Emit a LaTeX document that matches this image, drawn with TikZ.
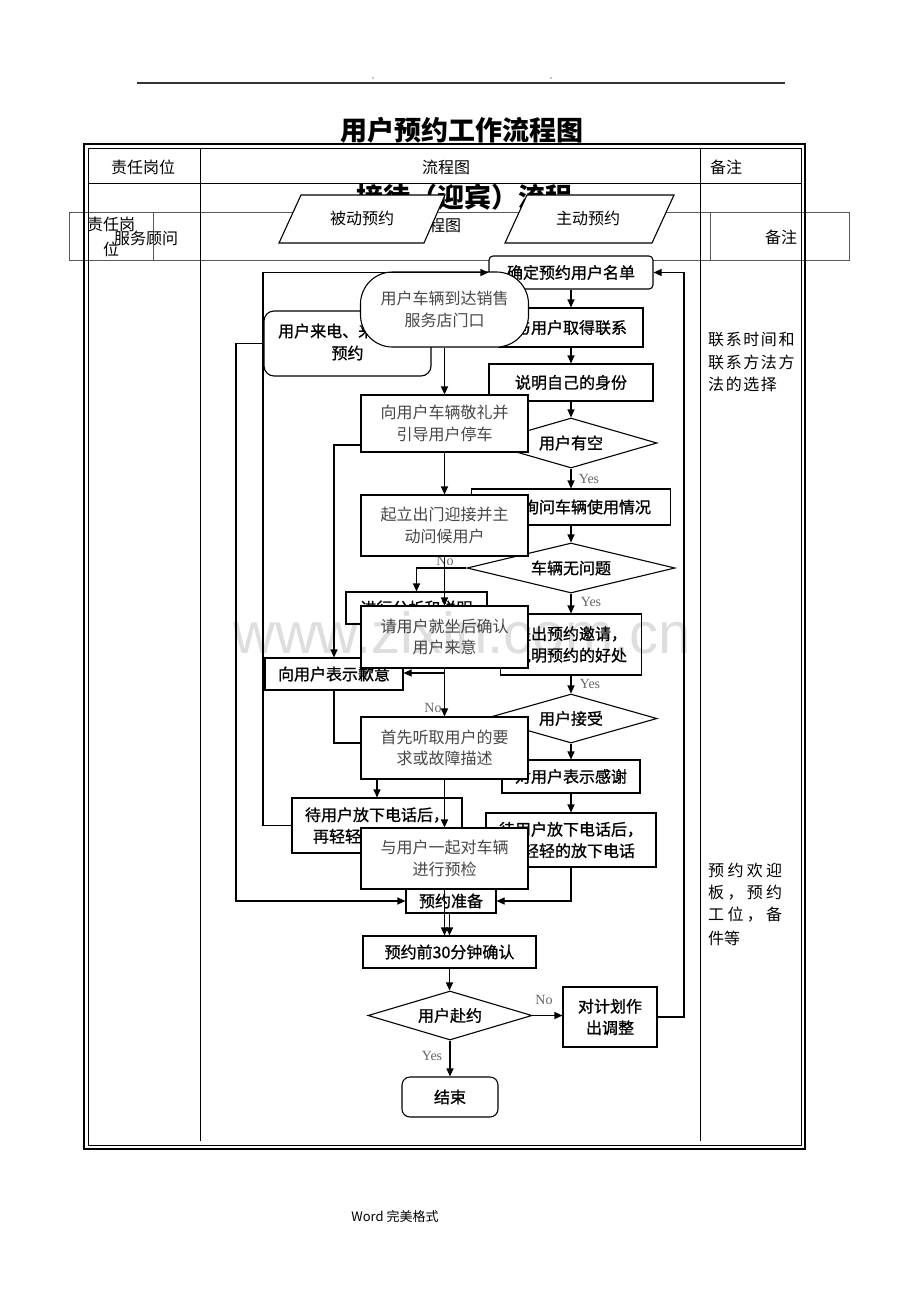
\documentclass[tikz,border=0pt]{standalone}
\usepackage{fontspec}
\setmainfont{Liberation Serif}
\newfontfamily\cjk{Noto Sans CJK SC}
\newfontfamily\cjkb[FakeBold=1]{Noto Sans CJK SC}
\newfontfamily\cjkw[LetterSpace=10]{Noto Sans CJK SC}
\newfontfamily\wmfont{Liberation Sans}
\usetikzlibrary{arrows.meta,shapes.geometric,calc}
\begin{document}
\begin{tikzpicture}[x=1pt,y=-1pt,
  font=\cjk\fontsize{16}{21.5}\selectfont,
  bx/.style={draw,line width=1.1pt,fill=white,inner sep=0pt,align=center,font=\cjkb\fontsize{16}{21.5}\selectfont},
  lb/.style={draw,line width=1.1pt,fill=white,inner sep=0pt,align=center,text=black!72,font=\cjk\fontsize{16}{21.5}\selectfont},
  dm/.style={bx,diamond,aspect=3.5},
  conn/.style={line width=1.1pt,-{Triangle[length=8pt,width=7pt]}},
  ln/.style={line width=1.1pt},
  yn/.style={font=\fontsize{14}{14}\selectfont,text=black!60,inner sep=0pt},
  tx/.style={inner sep=0pt},
]
\useasboundingbox (0,0) rectangle (920,1302);
\fill[white] (0,0) rectangle (920,1302);

% page header
\draw[line width=1.3pt,black!80] (137,83) -- (785,83);
\fill (373,78) circle (0.7pt);
\fill (551,78) circle (0.7pt);
\node[tx] (title) at (462,130) {\cjk\bfseries\fontsize{27}{27}\selectfont 用户预约工作流程图};

% hidden second title
\node[tx] (t2) at (464,197) {\cjk\bfseries\fontsize{27}{27}\selectfont 接待（迎宾）流程};

% second (overlapping) table row
\draw[draw=black!65,fill=white,line width=0.8pt] (69,212) rectangle (849,260);
\draw[draw=black!65,line width=0.8pt] (153,212) -- (153,260) (710,212) -- (710,260);
\node[tx] (s1) at (111,224) {责任岗};
\node[tx] (s2) at (111,249) {位};
\node[tx] (s3) at (437,225) {流程图};
\node[tx] (s4) at (781,237) {备注};

% main table
\draw[line width=1.2pt] (84,144) rectangle (805,1149);
\draw[line width=1.0pt] (88,148) rectangle (801,1145);
\draw[line width=1.0pt] (88,183) -- (801,183);
\draw[line width=1.0pt] (200,148) -- (200,1141);
\draw[line width=1.0pt] (700,148) -- (700,1141);
\node[tx] (h1) at (143,167) {责任岗位};
\node[tx] (h2) at (446,167) {流程图};
\node[tx,anchor=west] (h3) at (710,167) {备注};
\node[tx] (fw) at (146,238) {服务顾问};

% parallelograms
\draw[fill=white,line width=1.1pt] (301,195) -- (445,195) -- (424,243) -- (279,243) -- cycle;
\node[tx] (bd) at (362,218) {被动预约};
\draw[fill=white,line width=1.1pt] (527,195) -- (674,195) -- (652,243) -- (505,243) -- cycle;
\node[tx] (zd) at (588,218) {主动预约};

% coordinates
\coordinate (lA) at (263,272.5);
\coordinate (rA) at (684,272.5);
\coordinate (lB) at (236,343.5);
\coordinate (jlw) at (361,445);
\coordinate (sxw) at (361,743);
\coordinate (br1) at (444.5,673);

% bold-flow nodes
\node[bx,rounded corners=4pt,minimum width=164pt,minimum height=33pt] (qd) at (571,272.5) {确定预约用户名单};
\node[bx,minimum width=144pt,minimum height=39pt] (lx) at (571,327.5) {与用户取得联系};
\node[bx,minimum width=164pt,minimum height=37pt] (sm) at (571,382.5) {说明自己的身份};
\node[dm,minimum width=172pt,minimum height=50pt] (d1) at (571,443) {用户有空};
\node[bx,minimum width=199pt,minimum height=36pt] (xw) at (571,507) {};
\node[tx,font=\cjkb\fontsize{16}{16}\selectfont] (xwt) at (587,507) {询问车辆使用情况};
\node[dm,minimum width=208pt,minimum height=50pt] (d2) at (571,568) {车辆无问题};
\node[bx,minimum width=141pt,minimum height=32pt] (fx) at (416.5,608) {进行分析和说明};
\node[bx,minimum width=141pt,minimum height=61pt] (tc) at (571,644.5) {提出预约邀请，\\说明预约的好处};
\node[bx,minimum width=138pt,minimum height=32pt] (qy) at (334,674) {向用户表示歉意};
\node[dm,minimum width=172pt,minimum height=49pt] (d3) at (571,718.5) {用户接受};
\node[bx,minimum width=138pt,minimum height=33pt] (gx) at (571,776.5) {对用户表示感谢};
\node[bx,minimum width=170pt,minimum height=54pt] (dR) at (571,840) {待用户放下电话后，\\再轻轻的放下电话};
\node[bx,minimum width=170pt,minimum height=55pt] (dL) at (377,825.5) {待用户放下电话后，\\再轻轻的放下电话};
\node[bx,minimum width=90pt,minimum height=24pt] (yz) at (451,901) {预约准备};
\node[bx,rounded corners=10pt,minimum width=167pt,minimum height=65pt] (ld) at (347.5,343.5) {};
\node[tx,anchor=west,font=\cjkb\fontsize{16}{16}\selectfont] (ldt1) at (278,331) {用户来电、来店};
\node[tx,font=\cjkb\fontsize{16}{16}\selectfont] (ldt2) at (347.5,353) {预约};
\node[bx,minimum width=173pt,minimum height=32pt] (q30) at (449.5,952) {预约前30分钟确认};
\node[dm,minimum width=164pt,minimum height=49pt] (d4) at (450,1015.5) {用户赴约};
\node[bx,minimum width=94pt,minimum height=60pt] (tz) at (610,1017) {对计划作\\出调整};
\node[bx,rounded corners=8pt,minimum width=96pt,minimum height=40pt] (js) at (450,1097) {结束};

% bold-flow connectors
\draw[conn] (qd) -- (lx);
\draw[conn] (lx) -- (sm);
\draw[conn] (sm) -- (d1);
\draw[conn] (d1) -- (xw);
\draw[conn] (xw) -- (d2);
\draw[conn] (d2) -- (tc);
\draw[conn] (tc) -- (d3);
\draw[conn] (d3) -- (gx);
\draw[conn] (gx) -- (dR);
\draw[conn] (dR.south) |- (yz.east);
\draw[conn] (d2.west) -| (fx.north);
\draw[conn] (ld.west) -- (lB) |- (yz.west);
\draw[conn] (yz.south -| q30.north) -- (q30.north);
\draw[conn] (q30.south) -- (q30.south |- d4.north);
\draw[conn] (d4.east) -- (d4.east -| tz.west);
\draw[conn] (d4.south) -- (d4.south |- js.north);

\node[yn] (y1) at (589,479) {Yes};
\node[yn] (y2) at (591,602) {Yes};
\node[yn] (y3) at (590,684) {Yes};
\node[yn] (n1) at (445,561) {No};
\node[yn] (n3) at (544,1000) {No};
\node[yn] (y4) at (432,1056) {Yes};

% light-flow connectors
\draw[conn] (jlw) -| (qy.north);
\draw[ln] (qy.south) |- (sxw);
\draw[conn] (br1) -- (br1 -| qy.east);
\draw[conn] (dL.north |- 0,779) -- (dL.north);

% light-flow nodes
\node[lb,rounded corners=32pt,minimum width=168pt,minimum height=75pt] (st) at (444.5,309.5) {用户车辆到达销售\\服务店门口};
\node[lb,minimum width=167pt,minimum height=57pt] (jl) at (444.5,423.5) {向用户车辆敬礼并\\引导用户停车};
\node[lb,minimum width=167pt,minimum height=61pt] (ql) at (444.5,525.5) {起立出门迎接并主\\动问候用户};
\node[lb,minimum width=167pt,minimum height=62pt] (qz) at (444.5,637) {请用户就坐后确认\\用户来意};
\node[lb,minimum width=167pt,minimum height=62pt] (sx) at (444.5,748) {首先听取用户的要\\求或故障描述};
\node[lb,minimum width=167pt,minimum height=61pt] (yq) at (444.5,858.5) {与用户一起对车辆\\进行预检};

\draw[conn] (st) -- (jl);
\draw[conn] (jl) -- (ql);
\draw[conn] (ql) -- (qz);
\draw[conn] (qz) -- (sx);
\draw[conn] (sx) -- (yq);
\draw[conn] (yq.south) -- (yq.south |- q30.north);
\node[yn] (n2) at (433,708) {No};

% loops to the list
\draw[conn] (dL.west) -| (lA) -- (qd.west);
\draw[conn] (tz.east) -| (rA) -- (qd.east);

% remarks
\node[tx,anchor=west,font=\cjkw\fontsize{16}{16}\selectfont] (r1) at (708,340) {联系时间和};
\node[tx,anchor=west,font=\cjkw\fontsize{16}{16}\selectfont] (r2) at (708,362) {联系方法方};
\node[tx,anchor=west,font=\cjkw\fontsize{16}{16}\selectfont] (r3) at (708,384) {法的选择};
\node[tx,anchor=west] (r4) at (708,870) {\makebox[74pt][s]{预\hfill 约\hfill 欢\hfill 迎}};
\node[tx,anchor=west] (r5) at (708,893) {\makebox[74pt][s]{板\hfill ，\hfill 预\hfill 约}};
\node[tx,anchor=west] (r6) at (708,915) {\makebox[74pt][s]{工\hfill 位\hfill ，\hfill 备}};
\node[tx,anchor=west] (r7) at (708,938) {件等};

% footer
\node[tx] (ft) at (395,1216) {\fontsize{13}{13}\selectfont Word {\cjk 完美格式}};

% watermark
\node[tx,anchor=base west,text=black,text opacity=0.13,font=\wmfont\fontsize{58}{58}\selectfont] (wm) at (233,653) {www.zixin.com.cn};
\end{tikzpicture}
\end{document}
